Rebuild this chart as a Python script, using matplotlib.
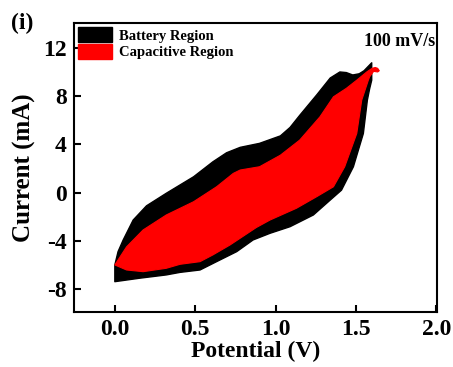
#!/usr/bin/env python3

import matplotlib.pyplot as plt
from matplotlib.patches import Patch

plt.rcParams["font.family"] = ["Liberation Serif", "DejaVu Serif"]
plt.rcParams["font.weight"] = "bold"
plt.rcParams["axes.unicode_minus"] = False

# outer CV loop (battery region): anodic sweep, then cathodic sweep back
battery_v = [0.0, 0.0, 0.02, 0.052, 0.114, 0.197, 0.32, 0.49, 0.61, 0.695, 0.78,
             0.90, 1.03, 1.09, 1.15, 1.256, 1.34, 1.40, 1.44, 1.48, 1.52, 1.55, 1.598,
             1.598, 1.585, 1.571, 1.546, 1.484, 1.41, 1.34, 1.235, 1.09, 0.965, 0.86,
             0.758, 0.633, 0.53, 0.405, 0.32, 0.156, 0.0]
battery_i = [-7.39, -6.0, -4.9, -3.93, -2.28, -1.1, -0.06, 1.31, 2.55, 3.3, 3.75,
             4.08, 4.7, 5.4, 6.4, 8.1, 9.5, 10.0, 9.95, 9.75, 9.85, 10.1, 10.76,
             9.32, 8.6, 7.67, 4.9, 2.14, 0.2, -0.62, -1.86, -2.83, -3.38, -3.93,
             -4.9, -5.73, -6.42, -6.62, -6.83, -7.1, -7.39]

# inner loop (capacitive contribution)
capacitive_v = [0.0, 0.073, 0.176, 0.32, 0.49, 0.633, 0.737, 0.78, 0.90, 1.03, 1.15,
                1.276, 1.36, 1.44, 1.505, 1.567, 1.60, 1.62, 1.635, 1.645, 1.635, 1.61,
                1.585, 1.577, 1.536, 1.505, 1.43, 1.36, 1.256, 1.13, 0.965, 0.88,
                0.716, 0.61, 0.53, 0.405, 0.32, 0.176, 0.073, 0.0]
capacitive_i = [-6.0, -4.5, -3.1, -1.86, -0.76, 0.48, 1.59, 1.87, 2.14, 3.1, 4.35,
                6.28, 7.94, 8.64, 9.32, 10.0, 10.3, 10.37, 10.3, 10.1, 10.0, 10.05,
                9.6, 9.32, 7.67, 4.9, 2.14, 0.48, -0.34, -1.3, -2.28, -2.9,
                -4.35, -5.17, -5.73, -5.95, -6.28, -6.56, -6.42, -6.0]

x_ticks = [0.0, 0.5, 1.0, 1.5, 2.0]
y_ticks = [-8, -4, 0, 4, 8, 12]


def main():
    fig = plt.figure(figsize=(4.53, 3.67), dpi=100)
    ax = fig.add_axes([0.163, 0.150, 0.802, 0.787])

    ax.fill(battery_v, battery_i, color="black", lw=1.0, joinstyle="round")
    ax.fill(capacitive_v, capacitive_i, color="#ff0000", lw=0.8, joinstyle="round")

    ax.set_xlim(-0.255, 2.005)
    ax.set_ylim(-9.9, 14.05)
    ax.set_xticks(x_ticks)
    ax.set_xticklabels([f"{t:.1f}" for t in x_ticks])
    ax.set_yticks(y_ticks)
    ax.tick_params(direction="in", length=5, width=1.5, labelsize=17, pad=5,
                   top=False, right=False)
    for s in ax.spines.values():
        s.set_linewidth(1.5)

    ax.set_xlabel("Potential (V)", fontsize=17, fontweight="bold", labelpad=1)
    ax.set_ylabel("Current (mA)", fontsize=18, fontweight="bold", labelpad=5)

    handles = [Patch(facecolor="black", edgecolor="black", label="Battery Region"),
               Patch(facecolor="#ff0000", edgecolor="#ff0000", label="Capacitive Region")]
    ax.legend(handles=handles, loc="upper left", frameon=False,
              prop={"size": 10.5, "weight": "bold"},
              handlelength=2.3, handleheight=1.2, labelspacing=0.05,
              handletextpad=0.5, borderaxespad=0.1, borderpad=0.2)

    ax.text(0.995, 0.965, "100 mV/s", transform=ax.transAxes, ha="right", va="top",
            fontsize=13, fontweight="bold")
    fig.text(0.025, 0.965, "(i)", fontsize=17, fontweight="bold", va="top")

    fig.savefig("out.png", dpi=100)


if __name__ == "__main__":
    main()
